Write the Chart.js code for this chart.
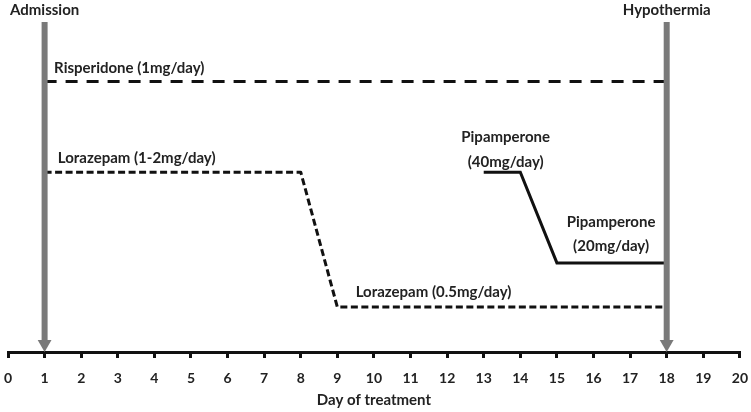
<!DOCTYPE html>
<html>
<head>
<meta charset="utf-8">
<script src="https://cdn.jsdelivr.net/npm/chart.js@4"></script>
<style>
  html, body { margin: 0; padding: 0; background: #fff; }
  #wrap { width: 751px; height: 412px; }
</style>
</head>
<body>
<div id="wrap"><canvas id="timeline"></canvas></div>
<script>
// days on the x axis, dose levels are relative heights (0-10)
const dayTicks = [0, 1, 2, 3, 4, 5, 6, 7, 8, 9, 10, 11, 12, 13, 14, 15, 16, 17, 18, 19, 20];

const risperidoneDays = [1, 18];
const risperidoneLevel = [8.2, 8.2];

const lorazepamDays = [1, 8, 9, 18];
const lorazepamLevel = [5.45, 5.45, 1.36, 1.36];

const pipamperoneDays = [13, 14, 15, 18];
const pipamperoneLevel = [5.45, 5.45, 2.7, 2.7];

// event markers (admission, hypothermia)
const eventDays = [1, 18];
const eventNames = ['Admission', 'Hypothermia'];

// text annotations: [text, day, level, align]
const notes = [
    ['Risperidone (1mg/day)', 1.26, 8.6, 'left'],
    ['Lorazepam (1-2mg/day)', 1.36, 5.88, 'left'],
    ['Lorazepam (0.5mg/day)', 9.5, 1.82, 'left'],
    ['Pipamperone', 13.6, 6.5, 'center'],
    ['(40mg/day)', 13.6, 5.76, 'center'],
    ['Pipamperone', 16.48, 3.94, 'center'],
    ['(20mg/day)', 16.48, 3.2, 'center']
];

function toPoints(xs, ys) {
    return xs.map(function(x, i) { return {x: x, y: ys[i]}; });
}

let datasets = [];

// arrows first so they sit on top of the drug lines
eventDays.forEach(function(d) {
    datasets.push({
        data: toPoints([d, d], [10, 0.24]),
        borderColor: '#7a7a7a',
        borderWidth: 6,
        pointRadius: [0, 8],
        pointStyle: 'triangle',
        pointRotation: 180,
        pointBackgroundColor: '#7a7a7a',
        pointBorderWidth: 0,
        clip: false
    });
});

datasets.push({
    data: toPoints(risperidoneDays, risperidoneLevel),
    borderColor: '#111',
    borderWidth: 3,
    borderDash: [12, 9],
    pointRadius: 0
});
datasets.push({
    data: toPoints(lorazepamDays, lorazepamLevel),
    borderColor: '#111',
    borderWidth: 3,
    borderDash: [7, 3.5],
    borderJoinStyle: 'round',
    pointRadius: 0
});
datasets.push({
    data: toPoints(pipamperoneDays, pipamperoneLevel),
    borderColor: '#111',
    borderWidth: 3,
    pointRadius: 0
});

const notePlugin = {
    id: 'notes',
    afterDraw: function(chart) {
        const ctx = chart.ctx;
        const xs = chart.scales.x;
        const ys = chart.scales.y;
        ctx.save();
        ctx.fillStyle = '#222';
        ctx.font = 'bold 15px Lato';
        ctx.textBaseline = 'middle';
        notes.forEach(function(n) {
            ctx.textAlign = n[3];
            ctx.fillText(n[0], xs.getPixelForValue(n[1]), ys.getPixelForValue(n[2]));
        });
        ctx.textAlign = 'center';
        eventDays.forEach(function(d, i) {
            ctx.fillText(eventNames[i], xs.getPixelForValue(d), ys.getPixelForValue(10.36));
        });
        ctx.restore();
    }
};

const ctx = document.getElementById('timeline').getContext('2d');

new Chart(ctx, {
    type: 'line',
    data: { datasets: datasets },
    options: {
        responsive: true,
        maintainAspectRatio: false,
        animation: false,
        layout: { padding: { left: 2, right: 2, top: 22, bottom: 0 } },
        plugins: {
            legend: { display: false },
            tooltip: { enabled: false }
        },
        scales: {
            x: {
                type: 'linear',
                min: 0,
                max: 20,
                afterBuildTicks: function(axis) {
                    axis.ticks = dayTicks.map(function(v) { return {value: v}; });
                },
                grid: {
                    drawOnChartArea: false,
                    color: '#111',
                    lineWidth: 3,
                    tickLength: 6
                },
                border: { color: '#111', width: 3 },
                ticks: {
                    color: '#222',
                    padding: 3,
                    maxRotation: 0,
                    autoSkip: false,
                    font: { family: 'Lato', size: 14, weight: 'bold', lineHeight: '34px' }
                },
                title: {
                    display: true,
                    text: 'Day of treatment',
                    color: '#222',
                    padding: { top: -7, bottom: 3 },
                    font: { family: 'Lato', size: 15, weight: 'bold' }
                }
            },
            y: {
                display: false,
                min: 0,
                max: 10
            }
        }
    },
    plugins: [notePlugin]
});
</script>
</body>
</html>
